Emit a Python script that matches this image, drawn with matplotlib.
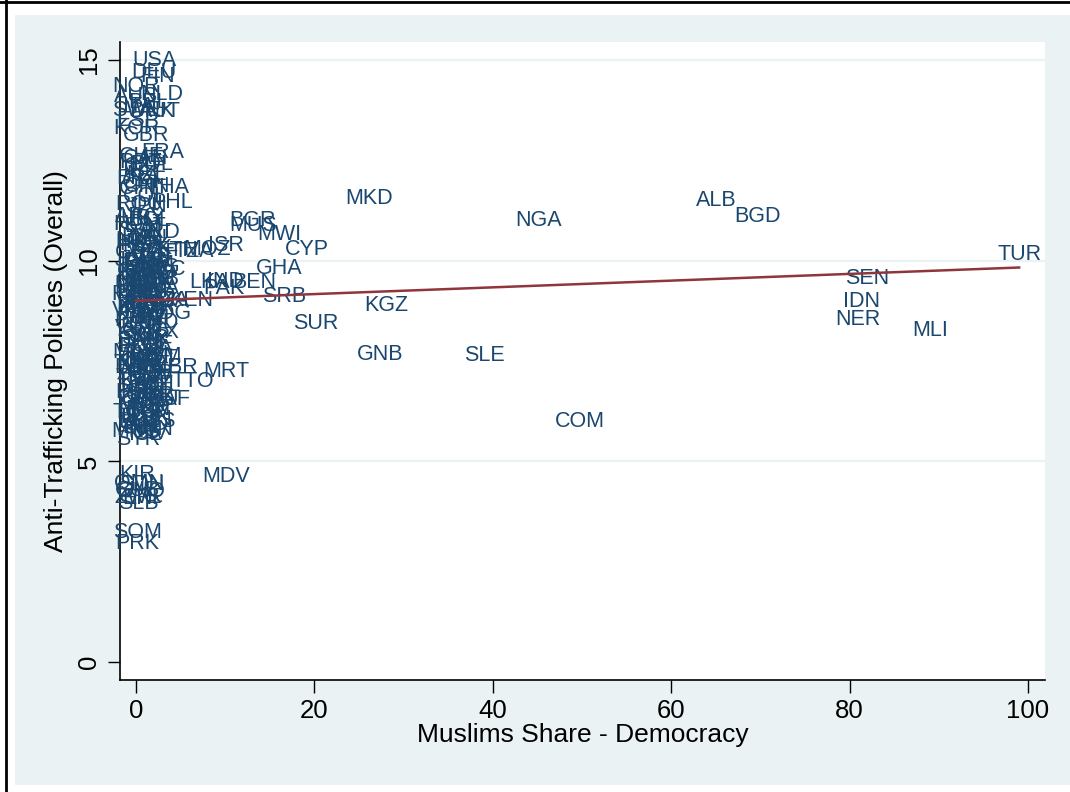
import matplotlib
matplotlib.use("Agg")
import matplotlib.pyplot as plt
from matplotlib.patches import Rectangle
from matplotlib.lines import Line2D

plt.rcParams["font.family"] = ["Liberation Sans", "DejaVu Sans"]

# country codes, muslim share (democracies only) and anti-trafficking score
countries = [
    "TUR", "SEN", "IDN", "NER", "MLI", "ALB", "BGD", "NGA", "MKD", "COM",
    "SLE", "GNB", "KGZ", "SUR", "SRB", "CYP", "GHA", "MWI", "MUS", "BGR",
    "MDV", "MRT", "ISR", "LKA", "IND", "BEN", "PAK", "KEN", "UGA", "MDG",
    "LBR", "TTO", "CAF", "THA", "PHL", "FRA", "GBR",
    "USA", "DEU", "FIN", "NOR", "NLD", "AUS", "ITA", "SWE", "DNK", "AUT",
    "ESP", "KOR", "CHE", "CAN", "PRT", "CZE", "IRL", "NZL", "BRA", "CRI",
    "CHN", "CHL", "COL", "ROU", "JPN", "ARG", "URY", "BOL", "HUN", "EST",
    "SVN", "LVA", "LTU", "HRV", "PER", "MEX", "SVK", "GRC", "ZAF", "ETH",
    "TZA", "MOZ", "JAM", "PAN", "DOM", "ECU", "SLV", "DRC", "GTM", "HND",
    "NIC", "PRY", "ARM", "GEO", "MDA", "UKR", "NAM", "BWA", "LSO", "ZMB",
    "RWA", "AGO", "BDI", "SWZ", "VEN", "BLR", "RUS", "MMR", "VNM", "LAO",
    "KHM", "HTI", "PNG", "FJI", "BTN", "VUT", "SYC", "CPV", "STP", "SAU",
    "IRN", "EGY", "DZA", "MAR", "TUN", "JOR", "KWT", "QAT", "ARE", "BHR",
    "YEM", "AFG", "UZB", "TKM", "TJK", "KAZ", "AZE", "TCD", "GIN", "BFA",
    "CMR", "GAB", "COG", "LBY", "SGP", "MYS", "BRN", "TGO", "DJI", "IRQ",
    "LBN", "BLZ", "SSD", "BIH", "TWN", "MNG", "ISL", "SYR",
    "BEL", "POL", "GRD", "LCA", "VCT", "DMA", "ATG", "KNA", "BRB", "BHS",
    "MLT", "LUX", "MCO", "AND", "SMR", "LIE", "TON", "WSM", "PLW", "MHL",
    "FSM", "NRU", "TUV", "TLS", "GUY", "CIV", "MNE", "XKX",
    "KIR", "OMN", "SDN", "CUB", "GNQ", "ZWE", "ERI", "SLB", "SOM", "PRK",
]
muslim_share = [
    99.0, 82.0, 81.3, 80.9, 89.0, 65.1, 69.7, 45.1, 26.1, 49.7,
    39.1, 27.4, 28.1, 20.1, 16.6, 19.2, 16.1, 16.1, 13.1, 13.0,
    10.1, 10.1, 10.1, 8.2, 10.0, 13.2, 9.9, 6.2, 3.3, 3.4,
    4.6, 6.4, 3.7, 3.6, 4.0, 3.0, 1.1,
    2.1, 2.0, 2.4, 0.0, 2.9, 0.0, 0.3, 0.0, 1.8, 2.6,
    0.2, 0.0, 0.6, 1.1, 0.5, 1.0, 0.4, 1.2, 0.3, 0.5,
    1.2, 0.5, 1.0, 0.3, 1.2, 0.2, 0.8, 1.5, 0.1, 1.0,
    0.5, 0.4, 1.3, 0.2, 0.6, 1.1, 1.6, 0.3, 2.5, 4.5,
    6.5, 8.0, 0.0, 0.8, 1.5, 0.3, 1.2, 3.0, 0.5, 2.0,
    0.2, 1.0, 1.8, 0.4, 1.4, 0.1, 0.9, 2.2, 0.3, 1.1,
    0.0, 1.9, 0.6, 1.5, 0.2, 1.0, 0.3, 1.6, 0.0, 1.0,
    0.5, 1.8, 0.2, 1.2, 0.6, 0.0, 1.0, 0.4, 1.5, 0.2,
    1.0, 0.5, 1.7, 0.0, 1.2, 0.4, 2.0, 0.7, 1.4, 0.1,
    1.0, 0.5, 1.8, 0.2, 1.3, 0.6, 2.0, 0.3, 1.1, 0.0,
    1.6, 0.5, 1.2, 0.2, 1.8, 0.6, 1.3, 0.0, 1.0, 0.4,
    1.7, 0.2, 1.1, 0.5, 1.4, 0.0, 1.0, 0.2,
    1.4, 1.8, 2.3, 0.0, 2.0, 1.2, 2.6, 0.6, 2.4, 0.0,
    1.7, 2.4, 0.8, 2.3, 1.0, 2.4, 0.0, 2.2, 1.5, 2.4,
    0.8, 2.2, 1.4, 2.3, 0.6, 1.7, 2.5, 2.5,
    0.1, 0.3, 0.6, 0.2, 0.6, 0.2, 0.5, 0.3, 0.2, 0.1,
]
anti_traff = [
    10.15, 9.55, 8.98, 8.53, 8.26, 11.5, 11.1, 11.0, 11.55, 5.99,
    7.64, 7.66, 8.88, 8.43, 9.10, 10.27, 9.80, 10.65, 10.87, 11.0,
    4.63, 7.24, 10.37, 9.45, 9.47, 9.45, 9.30, 9.0, 9.0, 8.68,
    7.35, 6.99, 6.54, 11.82, 11.44, 12.7, 13.13,
    15.0, 14.7, 14.6, 14.35, 14.15, 14.1, 13.85, 13.75, 13.72, 13.72,
    13.5, 13.3, 12.6, 12.55, 12.45, 12.35, 12.25, 12.15, 12.05, 11.95,
    11.85, 11.8, 11.6, 11.4, 11.35, 11.1, 11.05, 11.0, 10.9, 10.85,
    10.75, 10.6, 10.55, 10.45, 10.4, 10.35, 10.3, 10.2, 10.2, 10.25,
    10.22, 10.28, 10.0, 9.95, 9.9, 9.85, 9.8, 9.77, 9.72, 9.68,
    9.62, 9.58, 9.55, 9.5, 9.45, 9.4, 9.35, 9.3, 9.25, 9.2,
    9.15, 9.1, 9.05, 9.0, 8.95, 8.9, 8.85, 8.8, 8.75, 8.7,
    8.6, 8.55, 8.5, 8.42, 8.35, 8.3, 8.25, 8.15, 8.1, 8.0,
    7.95, 7.85, 7.8, 7.72, 7.65, 7.6, 7.55, 7.48, 7.42, 7.35,
    7.3, 7.22, 7.18, 7.1, 7.05, 6.98, 6.92, 6.85, 6.8, 6.72,
    6.65, 6.6, 6.5, 6.45, 6.4, 6.35, 6.3, 6.22, 6.15, 6.1,
    6.05, 5.98, 5.92, 5.85, 5.8, 5.75, 5.68, 5.55,
    13.95, 12.4, 10.7, 10.5, 10.1, 9.97, 9.83, 9.7, 9.52, 9.33,
    9.22, 8.98, 8.8, 8.45, 8.05, 7.9, 7.45, 7.62, 7.15, 6.88,
    6.7, 6.55, 6.25, 6.0, 5.95, 5.7, 7.35, 8.2,
    4.67, 4.45, 4.42, 4.28, 4.25, 4.1, 4.08, 3.95, 3.23, 2.96,
]

# linear fit (endpoints)
fit_x = [0, 99]
fit_y = [9.0, 9.83]

navy = "#1a476f"
maroon = "#90353b"
panel = "#eaf2f3"

fig = plt.figure(figsize=(10.7, 7.92), dpi=100)
fig.patch.set_facecolor("white")
fig.add_artist(Rectangle((15 / 1070, 7 / 792), 1 - 15 / 1070, 1 - 22 / 792,
                         transform=fig.transFigure, facecolor=panel,
                         edgecolor="none", zorder=0))
fig.add_artist(Line2D([6 / 1070, 6 / 1070], [0, 1], transform=fig.transFigure,
                      color="black", lw=2))
fig.add_artist(Line2D([0, 1], [1 - 2 / 792, 1 - 2 / 792], transform=fig.transFigure,
                      color="black", lw=2))

ax = fig.add_axes([120 / 1070, 1 - 680 / 792, 925 / 1070, 638 / 792])
ax.set_facecolor("white")

# labels centred on the point, no marker
for c, xv, yv in zip(countries, muslim_share, anti_traff):
    ax.text(xv, yv, c, color=navy, fontsize=15.5, ha="center", va="center",
            zorder=3)

ax.plot(fit_x, fit_y, color=maroon, lw=1.8, zorder=4)

ax.set_xlim(-1.8, 101.9)
ax.set_ylim(-0.45, 15.45)
ax.set_xticks([0, 20, 40, 60, 80, 100])
ax.set_yticks([0, 5, 10, 15])
for g in [5, 10, 15]:
    ax.axhline(g, color=panel, lw=1.6, zorder=1)

for s in ["top", "right"]:
    ax.spines[s].set_visible(False)
ax.spines["left"].set_linewidth(1.2)
ax.spines["bottom"].set_linewidth(1.2)
ax.tick_params(direction="out", length=9, width=1, labelsize=18.5, pad=5)
plt.setp(ax.get_yticklabels(), rotation=90, va="center")

ax.set_xlabel("Muslims Share - Democracy", fontsize=19, labelpad=0)
ax.set_ylabel("Anti-Trafficking Policies (Overall)", fontsize=19, labelpad=6)

fig.savefig("out.png", dpi=100)
